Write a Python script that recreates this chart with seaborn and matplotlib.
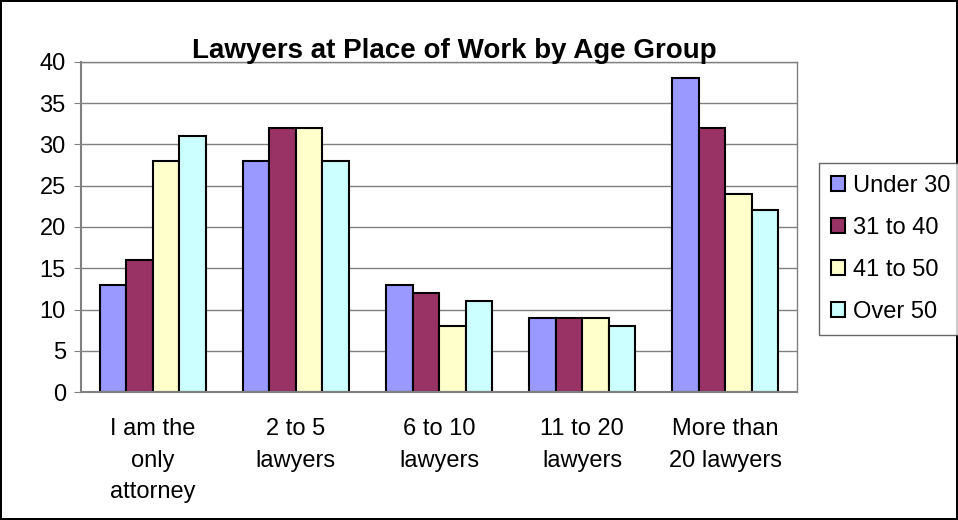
import numpy as np
import pandas as pd
import matplotlib
matplotlib.use("Agg")
import matplotlib.pyplot as plt
import seaborn as sns

# data
categories = ["I am the\nonly\nattorney", "2 to 5\nlawyers", "6 to 10\nlawyers",
              "11 to 20\nlawyers", "More than\n20 lawyers"]
age_groups = ["Under 30", "31 to 40", "41 to 50", "Over 50"]
under_30 = [13, 28, 13, 9, 38]
age_31_40 = [16, 32, 12, 9, 32]
age_41_50 = [28, 32, 8, 9, 24]
over_50 = [31, 28, 11, 8, 22]
colors = ["#9999FF", "#993366", "#FFFFCC", "#CCFFFF"]

df = pd.DataFrame({
    "category": categories * 4,
    "age": np.repeat(age_groups, len(categories)),
    "value": under_30 + age_31_40 + age_41_50 + over_50,
})

sns.set_style("white")
plt.rcParams["font.family"] = ["Liberation Sans", "DejaVu Sans"]
plt.rcParams["text.color"] = "black"
plt.rcParams["xtick.color"] = "black"
plt.rcParams["ytick.color"] = "black"

fig = plt.figure(figsize=(9.58, 5.2), dpi=100)
fig.patch.set_edgecolor("black")
fig.patch.set_linewidth(1.5)
ax = fig.add_axes([0.0846, 0.246, 0.7474, 0.635])

sns.barplot(data=df, x="category", y="value", hue="age", order=categories,
            hue_order=age_groups, palette=colors, width=0.74, edgecolor="black",
            linewidth=1.5, saturation=1, ax=ax, legend=True)

ax.set_ylim(0, 40)
ax.set_xlim(-0.5, 4.5)
ax.set_yticks(range(0, 41, 5))
ax.yaxis.grid(True, color="#808080", linewidth=1)
ax.set_axisbelow(True)
ax.set_xlabel("")
ax.set_ylabel("")
ax.tick_params(axis="x", which="major", length=0, labelsize=17, pad=19)
for lbl in ax.get_xticklabels():
    lbl.set_linespacing(1.55)
ax.set_xticks(np.arange(-0.5, 5, 1), minor=True)
ax.tick_params(axis="x", which="minor", length=5, color="#808080", width=1, direction="out")
ax.tick_params(axis="y", labelsize=17, length=5, color="#808080", direction="out", left=True, pad=6)
for side in ["left", "bottom"]:
    ax.spines[side].set_color("#808080")
    ax.spines[side].set_linewidth(1.5)
for side in ["top", "right"]:
    ax.spines[side].set_visible(True)
    ax.spines[side].set_color("#808080")
    ax.spines[side].set_linewidth(1)

ax.set_title("Lawyers at Place of Work by Age Group", fontsize=20, fontweight="bold",
             color="black", pad=3, x=0.522)

ax.legend(loc="upper left", bbox_to_anchor=(0.855, 0.6865), bbox_transform=fig.transFigure,
          frameon=True, fancybox=False, edgecolor="#404040", fontsize=17,
          handlelength=0.6, handleheight=0.6, handletextpad=0.35, labelspacing=0.85,
          borderaxespad=0, borderpad=0.5)
ax.get_legend().get_frame().set_linewidth(1)

fig.savefig("out.png", dpi=100)
